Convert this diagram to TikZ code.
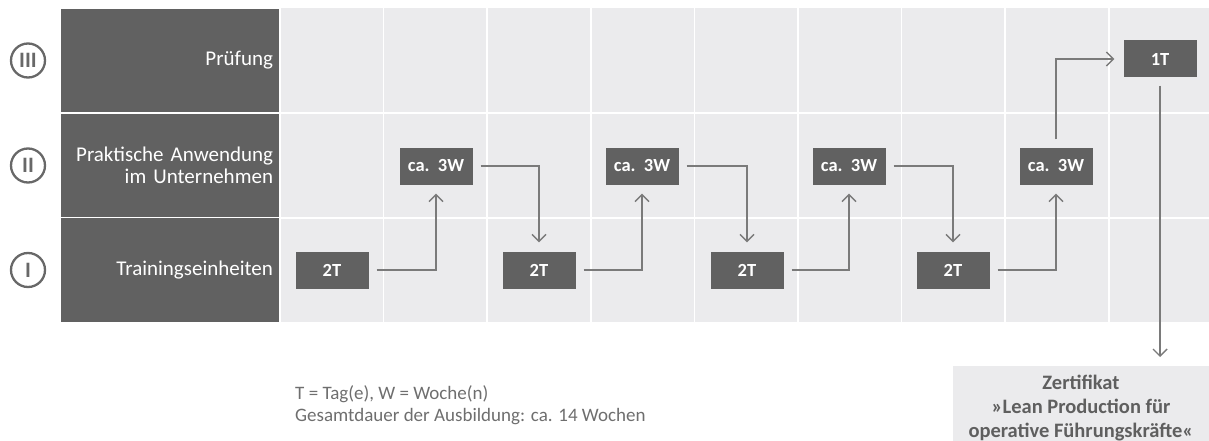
\documentclass[tikz,border=0pt]{standalone}
\usepackage{fontspec}
\setmainfont{Carlito}
\usepackage{tikz}
\usetikzlibrary{positioning}
\usetikzlibrary{arrows.meta}

\definecolor{lanegray}{HTML}{616161}
\definecolor{gridbg}{HTML}{EBEBED}
\definecolor{linegray}{HTML}{7A7A7A}
\definecolor{notegray}{HTML}{6E6E6E}
\definecolor{certtext}{HTML}{5F5F5F}

\begin{document}
\begin{tikzpicture}[
    x=1pt, y=-1pt,
    lane/.style={draw=white, line width=1.5pt, fill=lanegray, text=white,
                 minimum width=220pt, minimum height=105pt, text width=206pt,
                 inner xsep=7pt, align=right,
                 font=\fontsize{21}{22}\selectfont},
    numcircle/.style={circle, draw=linegray!85!black, line width=2.3pt,
                 minimum size=34pt, inner sep=0pt, text=linegray!85!black,
                 font=\bfseries\fontsize{22}{22}\selectfont},
    stepbox/.style={rectangle, fill=lanegray, text=white,
                 minimum width=73pt, minimum height=37pt, inner sep=0pt,
                 font=\bfseries\fontsize{18.5}{18.5}\selectfont},
    flow/.style={->, draw=linegray, line width=1.4pt,
                 shorten <=8pt, shorten >=9pt},
    >={Straight Barb[length=7pt, width=14pt]}
  ]
    \useasboundingbox (0,0) rectangle (1209,441);

    % Raster im Hintergrund
    \fill[gridbg] (280,8) rectangle (1209,322);
    \foreach \gx in {1,...,8}
      \draw[white, line width=1.5pt] (280+103.6*\gx,8) -- (280+103.6*\gx,322);
    \foreach \gy in {113,218}
      \draw[white, line width=1.5pt] (280,\gy) -- (1209,\gy);

    % Linke Spalte : Stufen
    \node[lane] (pruefung) at (170,60.5) {Prüfung};
    \node[lane] (praxis) at (170,165.5) {Praktische Anwendung\\im Unternehmen};
    \node[lane] (training) at (170,270) {Trainingseinheiten};

    \node[numcircle] (stufeIII) at (28,60.5) {III};
    \node[numcircle] (stufeII) at (28,165.5) {II};
    \node[numcircle] (stufeI) at (28,270) {I};

    % Trainingseinheiten
    \node[stepbox] (train1) at (332,270) {2T};
    \node[stepbox] (train2) at (539,270) {2T};
    \node[stepbox] (train3) at (747,270) {2T};
    \node[stepbox] (train4) at (953,270) {2T};

    % Praxisphasen
    \node[stepbox] (work1) at (436,166) {ca.~~3W};
    \node[stepbox] (work2) at (642,166) {ca.~~3W};
    \node[stepbox] (work3) at (849,166) {ca.~~3W};
    \node[stepbox] (work4) at (1056,166) {ca.~~3W};

    % Prüfung und Zertifikat
    \node[stepbox] (exam) at (1160,59) {1T};
    \node[anchor=north, fill=gridbg, text=certtext, minimum width=256pt,
          minimum height=80pt, inner xsep=0pt, inner ysep=9pt, align=center,
          font=\bfseries\fontsize{20.5}{24}\selectfont]
          (cert) at (1081,366)
          {Zertifikat\\»Lean Production für\\operative Führungskräfte«};

    % Legende
    \node[anchor=north west, inner sep=0pt, align=left, text=notegray,
          font=\fontsize{19}{22}\selectfont] (legend) at (295,385)
          {T = Tag(e), W = Woche(n)\\Gesamtdauer der Ausbildung: ca. 14 Wochen};

    % Ablauf
    \draw[flow] (train1.east) -| (work1.south);
    \draw[flow] (work1.east) -| (train2.north);
    \draw[flow] (train2.east) -| (work2.south);
    \draw[flow] (work2.east) -| (train3.north);
    \draw[flow] (train3.east) -| (work3.south);
    \draw[flow] (work3.east) -| (train4.north);
    \draw[flow] (train4.east) -| (work4.south);
    \draw[flow] (work4.north) |- (exam.west);
    \draw[flow] (exam.south) -- (exam.south |- cert.north);

  \end{tikzpicture}
\end{document}
